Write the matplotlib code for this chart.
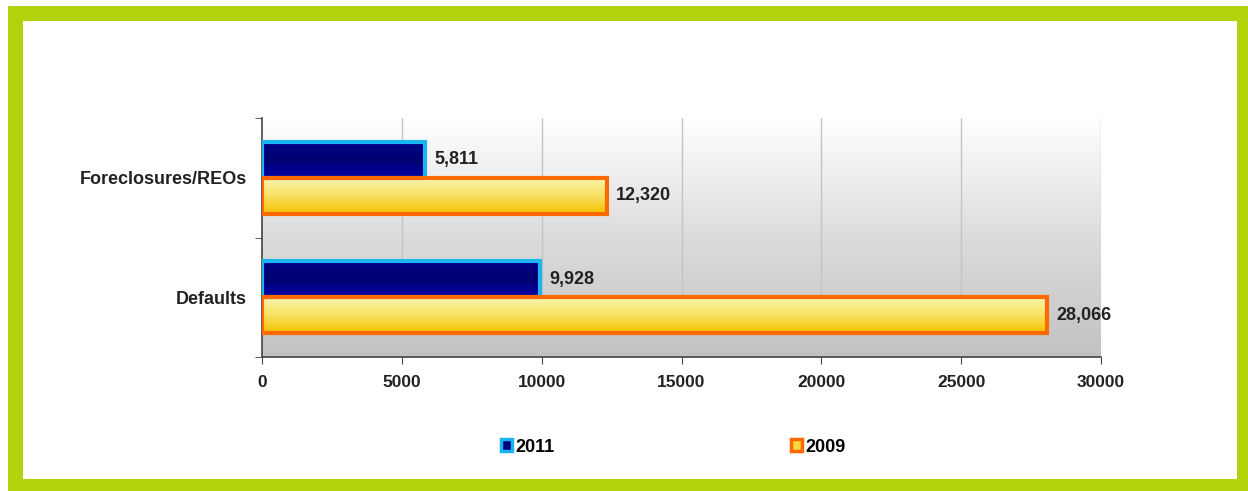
import numpy as np
import matplotlib.pyplot as plt
from matplotlib.patches import Rectangle, Patch
from matplotlib.colors import LinearSegmentedColormap

# data -----------------------------------------------------------------
categories = ['Defaults', 'Foreclosures/REOs']
vals_2011 = [9928, 5811]
vals_2009 = [28066, 12320]
series_names = ['2011', '2009']
xticks = [0, 5000, 10000, 15000, 20000, 25000, 30000]

plt.rcParams['font.family'] = ['Liberation Sans', 'DejaVu Sans']

fig = plt.figure(figsize=(12.48, 4.91), dpi=100)

# green frame around everything
fig.patches.append(Rectangle((14.5/1248, 1-486/491), (1244-14.5)/1248, (486-12.5)/491,
                             transform=fig.transFigure, facecolor='none',
                             edgecolor='#b4d20c', linewidth=10.8, zorder=-1))

ax = fig.add_axes([262/1248, 1-357/491, 839/1248, 239/491])
ax.set_xlim(0, 30000)
ax.set_ylim(-0.5, 1.5)

# grey gradient behind the plot
bg = LinearSegmentedColormap.from_list('bg', ['#c2c2c2', '#dcdcdc', '#ffffff'])
grad = np.linspace(0, 1, 256).reshape(-1, 1)
ax.imshow(grad, cmap=bg, aspect='auto', extent=[0, 30000, -0.5, 1.5], origin='lower', zorder=0)

for x in xticks[1:]:
    ax.axvline(x, color='#c4c4c4', linewidth=1, zorder=1)

h = 0.3
y = np.arange(len(categories))
b11 = ax.barh(y + h/2, vals_2011, height=h, facecolor='none', edgecolor='#1ab4f0', linewidth=3, zorder=4)
b09 = ax.barh(y - h/2, vals_2009, height=h, facecolor='none', edgecolor='#ff6a00', linewidth=3, zorder=4)

# gradient fill inside each bar
blue = LinearSegmentedColormap.from_list('b', ['#0000a8', '#000070', '#00008a'])
yell = LinearSegmentedColormap.from_list('y', ['#f6c200', '#f8e060', '#fbf6b0'])
for bars, cm in [(b11, blue), (b09, yell)]:
    for p in bars.patches:
        x0, y0 = p.get_x(), p.get_y()
        im = ax.imshow(grad, cmap=cm, aspect='auto', origin='lower',
                       extent=[x0, x0 + p.get_width(), y0, y0 + p.get_height()], zorder=3)
        im.set_clip_path(p)

for bars, vals in [(b11, vals_2011), (b09, vals_2009)]:
    for p, v in zip(bars.patches, vals):
        ax.text(v + 350, p.get_y() + p.get_height()/2, f'{v:,}', va='center', ha='left',
                fontsize=13, fontweight='bold', color='#222222', zorder=5)

ax.set_aspect('auto')
ax.set_xlim(0, 30000)
ax.set_ylim(-0.5, 1.5)
ax.set_xticks(xticks)
ax.set_xticklabels([str(t) for t in xticks], fontsize=12.5, fontweight='bold', color='#222222')
ax.set_yticks(y)
ax.set_yticklabels(categories, fontsize=13, fontweight='bold', color='#222222')
ax.tick_params(axis='y', length=0, pad=11)
ax.set_yticks([-0.5, 0.5, 1.5], minor=True)
ax.tick_params(axis='y', which='minor', length=5, color='#444444')
ax.tick_params(axis='x', length=5, color='#444444', pad=8)
for s in ['top', 'right']:
    ax.spines[s].set_visible(False)
for s in ['left', 'bottom']:
    ax.spines[s].set_color('#444444')
    ax.spines[s].set_linewidth(1.2)

handles = [Patch(facecolor='#000080', edgecolor='#1ab4f0', linewidth=2.5),
           Patch(facecolor='#f8d840', edgecolor='#ff6a00', linewidth=2.5)]
leg = fig.legend(handles, series_names, loc='center', bbox_to_anchor=(673/1248, 1-447/491),
                 ncol=2, frameon=False, handlelength=0.65, handleheight=0.65, handletextpad=0.15,
                 columnspacing=13.1, prop={'weight': 'bold', 'size': 13})

fig.savefig('out.png', dpi=100)
